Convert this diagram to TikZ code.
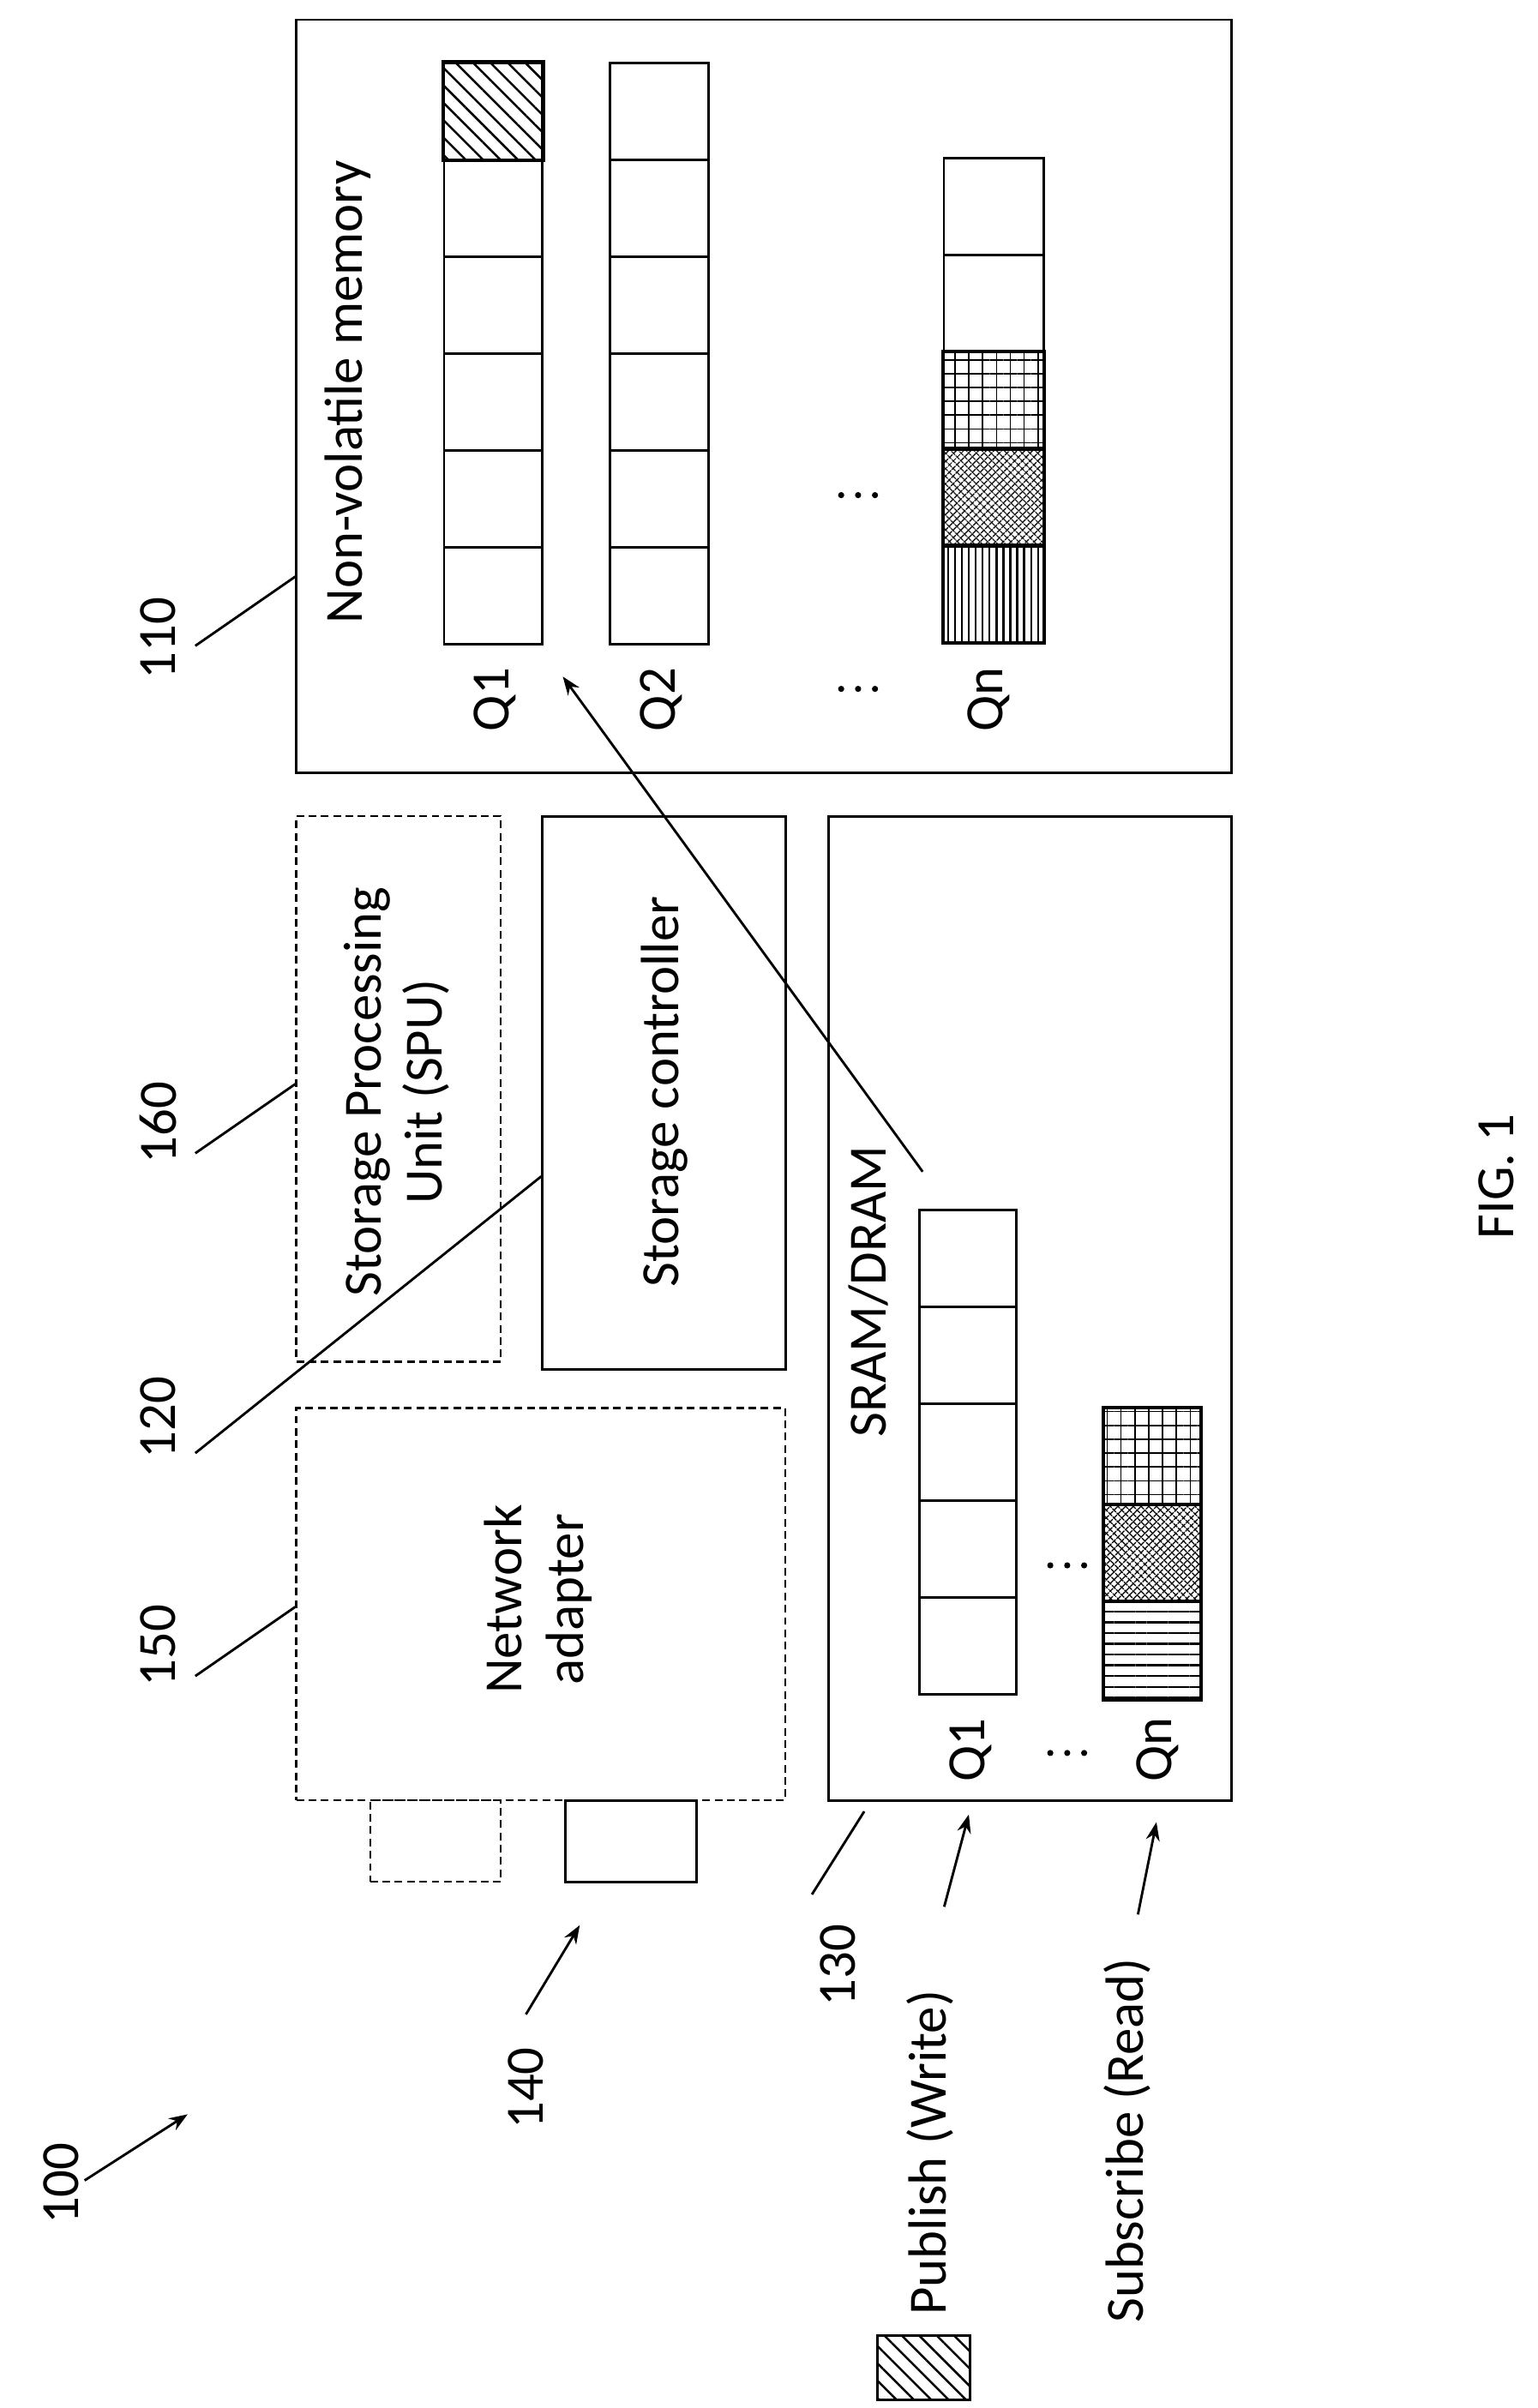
\documentclass[tikz,border=0pt]{standalone}
\usepackage{fontspec}
\setmainfont{Carlito}
\usetikzlibrary{patterns.meta,arrows.meta}
\begin{document}
\begin{tikzpicture}[x=1pt,y=-1pt,
  box/.style={draw,line width=1.6pt},
  dbox/.style={draw,line width=1.4pt,dash pattern=on 5pt off 3pt},
  cell/.style={draw,line width=1.6pt,fill=white},
  txt/.style={rotate=90,font=\fontsize{35}{40}\selectfont,align=center},
  dot/.style={fill,circle,inner sep=0pt,minimum size=4pt},
  lead/.style={line width=1.6pt},
  arr/.style={line width=1.6pt,-{Stealth[length=12pt,width=9pt]}},
  hatch/.style={pattern={Lines[angle=-45,distance=8pt,line width=1.4pt]}},
  pgrid/.style={pattern={Lines[angle=0,distance=9pt,line width=0.9pt]},postaction={pattern={Lines[angle=90,distance=9pt,line width=0.9pt]}}},
  pcross/.style={pattern={Lines[angle=45,distance=4pt,line width=0.9pt]},postaction={pattern={Lines[angle=-45,distance=4pt,line width=0.9pt]}}},
  pvert/.style={pattern={Lines[angle=90,distance=4.5pt,line width=1.3pt]}},
  phor/.style={pattern={Lines[angle=0,distance=7pt,line width=1.3pt]}}]
\useasboundingbox (0,0) rectangle (1000,1566);
% non-volatile
\node[box,minimum width=608pt,minimum height=490pt,anchor=north west] (nvm) at (192,12) {};
\node[txt] (nvmt) at (226,255) {Non-volatile memory};
\foreach \i in {0,...,5}{
  \node[cell,minimum width=64pt,minimum height=63pt,anchor=north west] (a\i) at (288,40+63*\i) {};
  \node[cell,minimum width=64pt,minimum height=63pt,anchor=north west] (b\i) at (396,40+63*\i) {};}
\fill[hatch] (a0.north west) rectangle (a0.south east);
\draw[line width=1.6pt] (a0.north west) rectangle (a0.south east);
\foreach \i in {1,...,5}{
  \node[cell,minimum width=65pt,minimum height=63pt,anchor=north west] (c\i) at (613,39+63*\i) {};}
\fill[pgrid] (c3.north west) rectangle (c3.south east);
\fill[pcross] (c4.north west) rectangle (c4.south east);
\fill[pvert] (c5.north west) rectangle (c5.south east);
\foreach \i in {3,4,5}{\draw[line width=1.6pt] (c\i.north west) rectangle (c\i.south east);}
\node[txt] (q1) at (322,455) {Q1};
\node[txt] (q2) at (430,455) {Q2};
\node[txt] (qn) at (643,455) {Qn};
\foreach \y [count=\k] in {322,448}{
  \node[dot] (da\k) at (547,\y) {}; \node[dot] (db\k) at (558,\y) {}; \node[dot] (dc\k) at (569,\y) {};}
% SPU
\node[dbox,minimum width=133pt,minimum height=355pt,anchor=north west] (spu) at (192,530) {};
\node[txt] (spt) at (258,710) {Storage Processing\\Unit (SPU)};
\node[box,minimum width=158pt,minimum height=360pt,anchor=north west] (sc) at (352,530) {};
\node[txt] (sct) at (432,710) {Storage controller};
% SRAM
\node[box,minimum width=262pt,minimum height=640pt,anchor=north west] (sram) at (538,530) {};
\node[txt] (srt) at (565,840) {SRAM/DRAM};
\foreach \i in {0,...,4}{
  \node[cell,minimum width=63pt,minimum height=63pt,anchor=north west] (s\i) at (597,786+63*\i) {};}
\foreach \i/\p in {0/pgrid,1/pcross,2/phor}{
  \node[cell,minimum width=63pt,minimum height=63pt,anchor=north west] (t\i) at (717,915+63*\i) {};
  \fill[\p] (t\i.north west) rectangle (t\i.south east);
  \draw[line width=1.6pt] (t\i.north west) rectangle (t\i.south east);}
\node[txt] (sq1) at (631,1138) {Q1};
\node[txt] (sqn) at (753,1138) {Qn};
\foreach \y [count=\k] in {1018,1140}{
  \node[dot] (ea\k) at (683,\y) {}; \node[dot] (eb\k) at (694,\y) {}; \node[dot] (ec\k) at (705,\y) {};}
\coordinate (as) at (600,762);
\coordinate (ae) at (366,440);
\draw[arr] (as) -- (ae);
% network
\node[dbox,minimum width=318pt,minimum height=255pt,anchor=north west] (net) at (192,915) {};
\node[txt] (nett) at (350,1040) {Network\\adapter};
\node[dbox,minimum width=85pt,minimum height=53pt,anchor=north west] (p1) at (240,1170) {};
\node[box,minimum width=85pt,minimum height=53pt,anchor=north west] (p2) at (367,1170) {};
% labels
\node[txt] (l110) at (103,415) {110};
\coordinate (e110a) at (127,420); \coordinate (e110b) at (192,375);
\draw[lead] (e110a) -- (e110b);
\node[txt] (l160) at (103,730) {160};
\coordinate (e160a) at (127,750); \coordinate (e160b) at (192,705);
\draw[lead] (e160a) -- (e160b);
\node[txt] (l120) at (103,922) {120};
\coordinate (e120a) at (127,945); \coordinate (e120b) at (352,765);
\draw[lead] (e120a) -- (e120b);
\node[txt] (l150) at (103,1070) {150};
\coordinate (e150a) at (127,1090); \coordinate (e150b) at (192,1045);
\draw[lead] (e150a) -- (e150b);
\node[txt] (l140) at (342,1358) {140};
\coordinate (e140a) at (342,1310); \coordinate (e140b) at (377,1252);
\draw[arr] (e140a) -- (e140b);
\node[txt] (l130) at (545,1278) {130};
\coordinate (e130a) at (528,1232); \coordinate (e130b) at (562,1178);
\draw[lead] (e130a) -- (e130b);
\node[txt] (l100) at (40,1420) {100};
\coordinate (e100a) at (55,1418); \coordinate (e100b) at (122,1375);
\draw[arr] (e100a) -- (e100b);
\node[txt] (pub) at (605,1400) {Publish (Write)};
\coordinate (epa) at (614,1240); \coordinate (epb) at (630,1180);
\draw[arr] (epa) -- (epb);
\node[txt] (sub) at (733,1392) {Subscribe (Read)};
\coordinate (esa) at (740,1245); \coordinate (esb) at (752,1185);
\draw[arr] (esa) -- (esb);
\node[draw,line width=1.6pt,hatch,minimum width=60pt,minimum height=42pt,anchor=north west] (leg) at (570,1518) {};
\node[txt] (fig) at (973,765) {FIG. 1};
\end{tikzpicture}
\end{document}
